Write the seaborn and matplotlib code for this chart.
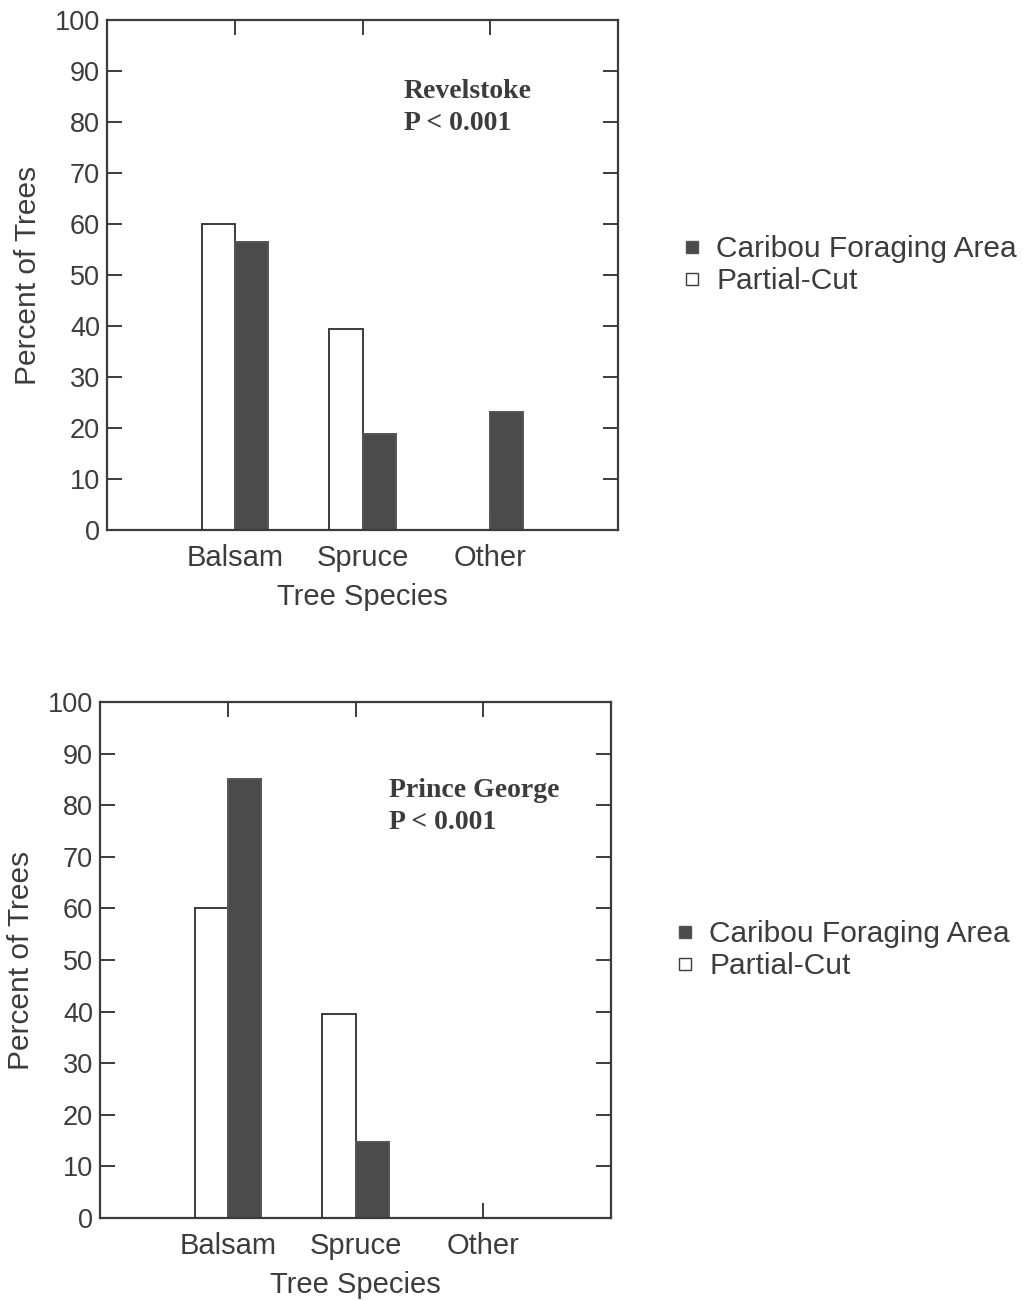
import matplotlib
matplotlib.use("Agg")
import matplotlib.pyplot as plt
import seaborn as sns
import pandas as pd
from matplotlib.lines import Line2D

species = ["Balsam", "Spruce", "Other"]
groups = ["Partial-Cut", "Caribou Foraging Area"]
revelstoke_partial = [60.0, 39.5, 0.0]
revelstoke_caribou = [56.5, 18.8, 23.2]
pg_partial = [60.0, 39.6, 0.0]
pg_caribou = [85.0, 14.7, 0.0]
yticks = list(range(0, 101, 10))

sns.set_theme(style="white")
plt.rcParams['font.family'] = ['Liberation Sans', 'DejaVu Sans']

INK = "#3c3c3c"
DARK = "#4b4b4b"

fig = plt.figure(figsize=(10.23, 13.01), dpi=100)
ax1 = fig.add_axes([0.1046, 0.5926, 0.4995, 0.392])
ax2 = fig.add_axes([0.0978, 0.0638, 0.4995, 0.3966])

panels = [
    (ax1, revelstoke_partial, revelstoke_caribou, "Revelstoke", (0.581, 0.859), (0.581, 0.798)),
    (ax2, pg_partial, pg_caribou, "Prince George", (0.566, 0.828), (0.566, 0.766)),
]

for ax, partial, caribou, site, p1, p2 in panels:
    df = pd.DataFrame({
        "species": species * 2,
        "percent": partial + caribou,
        "group": [groups[0]] * 3 + [groups[1]] * 3,
    })
    sns.barplot(data=df, x="species", y="percent", hue="group",
                hue_order=groups, order=species,
                palette={groups[0]: "white", groups[1]: DARK},
                width=0.52, gap=0, edgecolor=INK, linewidth=1.4,
                saturation=1, ax=ax, legend=False)
    for patch in ax.patches:
        if patch.get_facecolor()[0] < 0.5:
            patch.set_edgecolor("#555555")
    ax.set_xlim(-1, 3)
    ax.set_ylim(0, 100)
    ax.set_yticks(yticks)
    ax.set_yticklabels([str(v) for v in yticks], fontsize=19.5, color=INK)
    ax.set_xticks(range(len(species)))
    ax.set_xticklabels(species, fontsize=21, color=INK)
    ax.tick_params(axis="both", direction="in", length=11, width=1.4, color=INK,
                   top=True, right=True, bottom=True, left=True)
    ax.tick_params(axis="y", pad=5)
    ax.tick_params(axis="x", pad=10)
    for s in ax.spines.values():
        s.set_visible(True)
        s.set_color(INK)
        s.set_linewidth(1.6)
    ax.set_xlabel("Tree Species", fontsize=21, color=INK, labelpad=8)
    ax.set_ylabel("Percent of Trees", fontsize=21.5, color=INK, labelpad=9)
    ax.text(p1[0], p1[1], site, transform=ax.transAxes, fontsize=20,
            fontweight="bold", family=["Liberation Serif"], color=INK, va="center")
    ax.text(p2[0], p2[1], "P < 0.001", transform=ax.transAxes, fontsize=20,
            fontweight="bold", family=["Liberation Serif"], color=INK, va="center")
    handles = [
        Line2D([], [], marker="s", linestyle="none", markersize=8,
               markerfacecolor=DARK, markeredgecolor="#555555", markeredgewidth=1),
        Line2D([], [], marker="s", linestyle="none", markersize=8,
               markerfacecolor="white", markeredgecolor=INK, markeredgewidth=1),
    ]
    leg = ax.legend(handles, ["Caribou Foraging Area", "Partial-Cut"],
                    loc="center left", bbox_to_anchor=(1.075, 0.519),
                    frameon=False, fontsize=21.5, handlelength=0.6,
                    handletextpad=0.5, labelspacing=0.14)
    for t in leg.get_texts():
        t.set_color(INK)

fig.savefig("out.png", dpi=100, facecolor="white")
